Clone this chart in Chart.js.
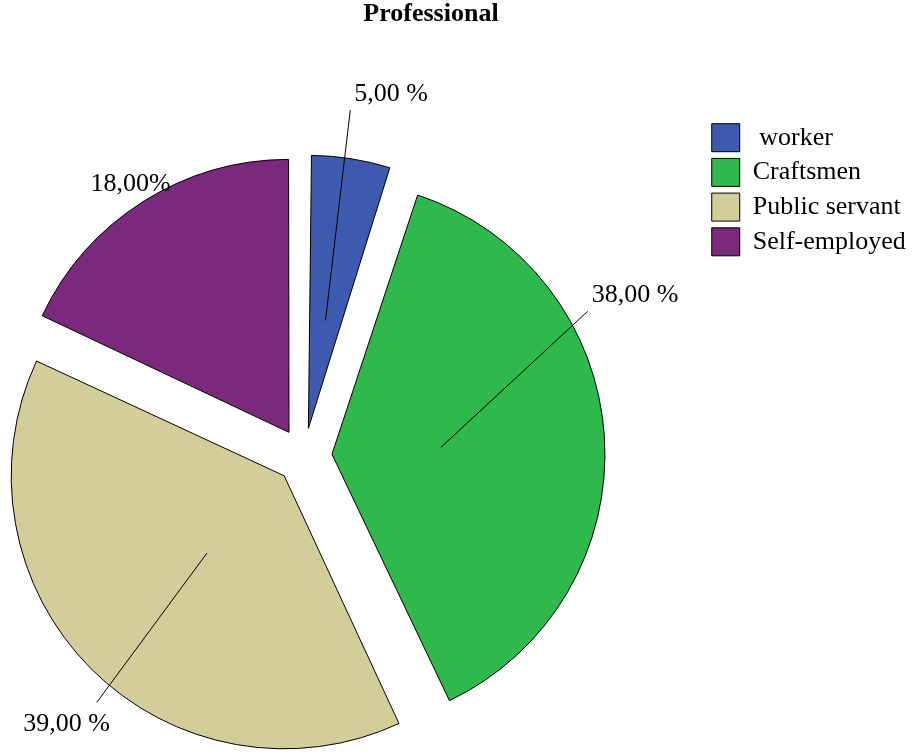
<!DOCTYPE html>
<html>
<head>
<meta charset="utf-8">
<title>Professional</title>
<script src="https://cdn.jsdelivr.net/npm/chart.js@4.4.1/dist/chart.umd.min.js"></script>
<style>
  html, body { margin: 0; padding: 0; background: #fff; overflow: hidden; }
  /* the canvas is a little wider than the page so the pie can sit left of the title centre */
  #wrap { position: absolute; left: -97px; top: 0; width: 1056px; height: 754px; }
</style>
</head>
<body>
<div id="wrap"><canvas id="professional"></canvas></div>
<script>
const categories = [' worker', 'Craftsmen', 'Public servant', 'Self-employed'];
const percents = [5, 38, 39, 18];
const pctSuffix = [' %', ' %', ' %', '%'];
const sliceColors = ['#3D5AAE', '#2FB84B', '#D3CD99', '#7B297C'];

const RADIUS = 273;
const EXPLODE = 28; // how far every slice is pulled out of the centre

// where each percentage label sits: leader end as a fraction of the radius,
// its angle relative to the slice middle (deg), and the text nudge
const labelSpots = [
  { reach: 1.176, turn: -1.5, line: true, align: 'left', dx: 4, dy: -9 },
  { reach: 1.073, turn: -25.6, line: true, align: 'left', dx: 4, dy: -9 },
  { reach: 1.078, turn: -5.4, line: true, align: 'center', dx: -30, dy: 28 },
  { reach: 1.055, turn: 0, line: false, align: 'center', dx: -4, dy: 2 }
];

Chart.defaults.font.family = '"Liberation Serif", "Times New Roman", serif';
Chart.defaults.color = '#000';

// arcs grow a bit when offset, narrow ones more than wide ones; keep them all the same size
const evenRadius = {
  id: 'evenRadius',
  afterDatasetUpdate(chart, args) {
    args.meta.data.forEach(arc => {
      const fix = 1 - Math.sin(Math.min(Math.PI, arc.circumference));
      arc.outerRadius = RADIUS - EXPLODE * fix;
    });
  }
};

const pctLabels = {
  id: 'pctLabels',
  afterDatasetsDraw(chart) {
    const ctx = chart.ctx;
    const arcs = chart.getDatasetMeta(0).data;
    ctx.save();
    ctx.font = '26px "Liberation Serif", serif';
    ctx.fillStyle = '#000';
    ctx.strokeStyle = '#000';
    ctx.lineWidth = 1;
    arcs.forEach((arc, i) => {
      const spot = labelSpots[i];
      const mid = (arc.startAngle + arc.endAngle) / 2;
      const ax = arc.x + Math.cos(mid) * EXPLODE;
      const ay = arc.y + Math.sin(mid) * EXPLODE;
      const a = mid + spot.turn * Math.PI / 180;
      const ex = ax + Math.cos(a) * RADIUS * spot.reach;
      const ey = ay + Math.sin(a) * RADIUS * spot.reach;
      if (spot.line) {
        ctx.beginPath();
        ctx.moveTo(ax + Math.cos(mid) * RADIUS * 0.4, ay + Math.sin(mid) * RADIUS * 0.4);
        ctx.lineTo(ex, ey);
        ctx.stroke();
      }
      ctx.textAlign = spot.align;
      ctx.textBaseline = 'alphabetic';
      const txt = percents[i].toFixed(2).replace('.', ',') + pctSuffix[i];
      ctx.fillText(txt, ex + spot.dx, ey + spot.dy);
    });
    ctx.restore();
  }
};

new Chart(document.getElementById('professional'), {
  type: 'pie',
  data: {
    labels: categories,
    datasets: [{
      data: percents,
      backgroundColor: sliceColors,
      borderColor: '#000',
      borderWidth: 1,
      offset: EXPLODE * 4, // arcs only move a quarter of this
      hoverOffset: 0
    }]
  },
  options: {
    responsive: true,
    maintainAspectRatio: false,
    animation: false,
    events: [],
    radius: RADIUS,
    plugins: {
      title: {
        display: true,
        text: 'Professional',
        color: '#000',
        font: { size: 26, weight: 'bold', lineHeight: 1.1 },
        padding: { top: 0, bottom: 129.4 }
      },
      // empty box that keeps some room right of the legend
      subtitle: {
        display: true,
        position: 'right',
        text: '',
        font: { size: 10, lineHeight: 1 },
        padding: { top: 16.6, bottom: 16.6 }
      },
      legend: {
        position: 'right',
        align: 'start',
        title: {
          display: true,
          text: '',
          font: { size: 12, lineHeight: 1 },
          padding: { top: 105, bottom: 0 }
        },
        labels: {
          boxWidth: 28,
          boxHeight: 28,
          padding: 6.7,
          color: '#000',
          font: { size: 26 }
        }
      },
      tooltip: { enabled: false }
    }
  },
  plugins: [evenRadius, pctLabels]
});
</script>
</body>
</html>
